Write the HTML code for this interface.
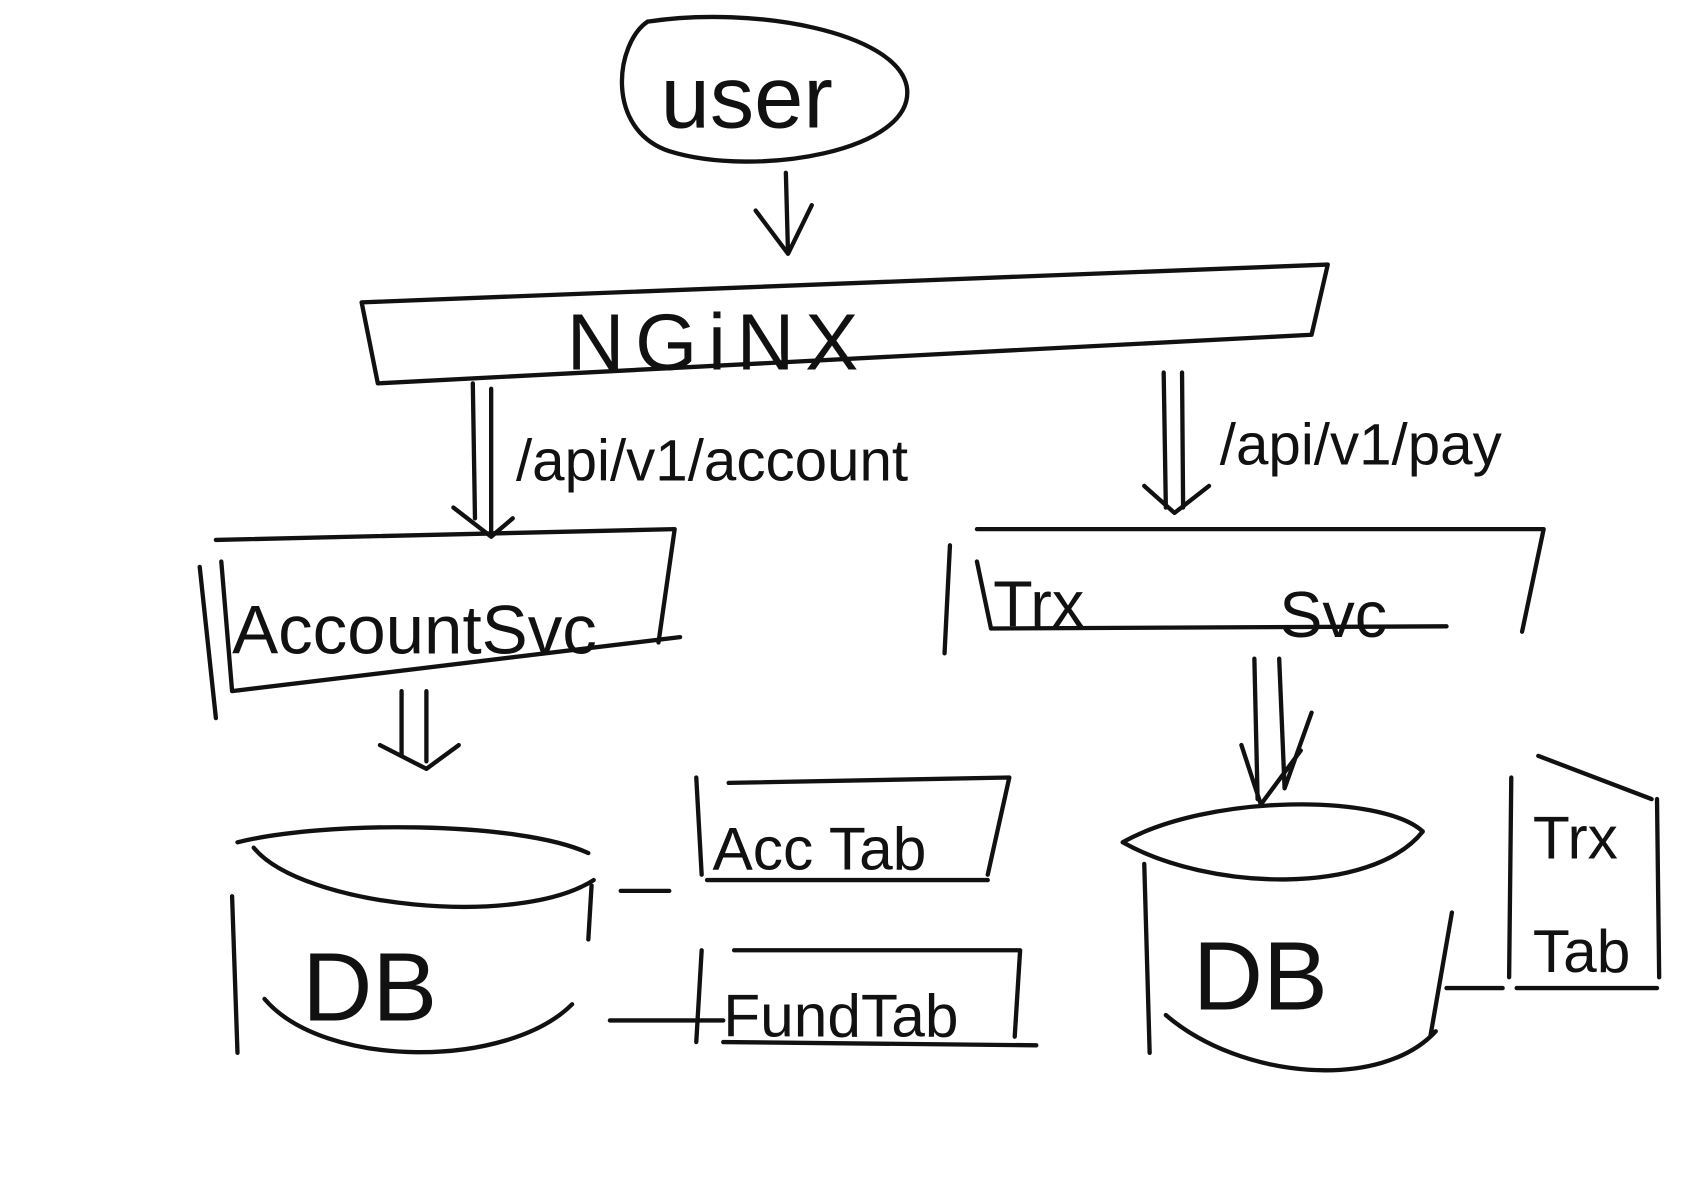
<!DOCTYPE html>
<html><head><meta charset="utf-8"><style>
html,body{margin:0;padding:0;background:#fff;}
svg{display:block;}
text{font-family:"Liberation Sans",sans-serif;fill:#111;}
</style></head><body>
<svg width="1684" height="1190" viewBox="0 0 1560 1102" preserveAspectRatio="none" xmlns="http://www.w3.org/2000/svg">
<g fill="none" stroke="#111" stroke-width="4" stroke-linecap="round" stroke-linejoin="round">
<path d="M600 20 C700 5 830 30 840 80 C850 140 700 165 620 140 C560 120 570 40 600 20"/>
<path d="M728 160 L730 235 M700 195 L730 235 L752 190"/>
<path d="M335 280 L1230 245 M335 280 L350 355 M1230 245 L1215 310 M350 355 L1215 310"/>
<path d="M438 355 L440 480 M455 360 L455 495 M420 470 L455 497 L475 480"/>
<path d="M1078 345 L1080 470 M1095 345 L1096 470 M1060 450 L1088 475 L1120 450"/>
<path d="M200 500 L625 490 M625 490 L610 595 M185 525 L200 665 M215 640 L630 590 M205 520 L215 640"/>
<path d="M905 490 L1430 490 M1430 490 L1410 585 M880 505 L875 605 M918 582 L1340 580 M905 520 L918 582"/>
<path d="M372 640 L372 700 M395 640 L395 705 M352 690 L395 712 L425 690"/>
<path d="M1162 610 L1165 740 M1185 610 L1190 730 M1150 690 L1168 745 L1205 695 M1215 660 L1190 730"/>
<path d="M220 780 C300 760 480 760 545 790 M235 785 C280 840 480 860 550 815 M215 830 L220 975 M548 820 L545 870 M245 925 C300 990 470 990 530 930"/>
<path d="M1040 780 C1120 735 1280 735 1318 770 M1040 780 C1120 825 1270 830 1318 770 M1060 800 L1065 975 M1345 845 L1325 960 M1080 940 C1150 1000 1280 1010 1330 955"/>
<path d="M645 720 L650 810 M675 725 L935 720 M935 720 L915 810 M655 815 L915 815 M575 825 L620 825"/>
<path d="M650 880 L645 965 M680 880 L945 880 M945 880 L940 960 M670 965 L960 968 M565 945 L670 945"/>
<path d="M1425 700 L1530 740 M1400 720 L1398 905 M1535 740 L1537 905 M1405 915 L1535 915 M1340 915 L1392 915"/>
</g>
<text x="612" y="118" font-size="82">user</text>
<text x="525" y="342" font-size="74" letter-spacing="10">NGiNX</text>
<text x="478" y="445" font-size="54">/api/v1/account</text>
<text x="1130" y="430" font-size="54">/api/v1/pay</text>
<text x="215" y="605" font-size="64">AccountSvc</text>
<text x="920" y="580" font-size="60">Trx</text>
<text x="1185" y="590" font-size="60">Svc</text>
<text x="280" y="945" font-size="90">DB</text>
<text x="1105" y="935" font-size="90">DB</text>
<text x="660" y="805" font-size="56">Acc Tab</text>
<text x="670" y="960" font-size="56">FundTab</text>
<text x="1420" y="795" font-size="56">Trx</text>
<text x="1420" y="900" font-size="56">Tab</text>
</svg>
</body></html>
